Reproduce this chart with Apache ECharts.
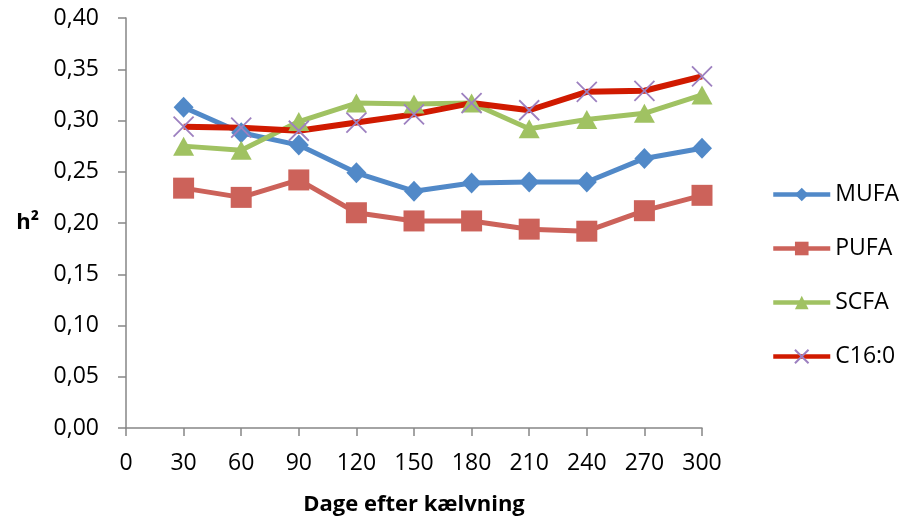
<!DOCTYPE html>
<html>
<head>
<meta charset="utf-8">
<script src="https://cdn.jsdelivr.net/npm/echarts@6/dist/echarts.min.js"></script>
<style>html,body{margin:0;padding:0;background:#fff}#c{width:913px;height:518px}</style>
</head>
<body>
<div id="c"></div>
<script>
const days = [30, 60, 90, 120, 150, 180, 210, 240, 270, 300];
const mufa = [0.313, 0.288, 0.276, 0.249, 0.231, 0.239, 0.240, 0.240, 0.263, 0.273];
const pufa = [0.234, 0.225, 0.242, 0.210, 0.202, 0.202, 0.194, 0.192, 0.212, 0.227];
const scfa = [0.275, 0.271, 0.299, 0.317, 0.316, 0.317, 0.292, 0.301, 0.307, 0.325];
const c160 = [0.294, 0.293, 0.290, 0.298, 0.306, 0.317, 0.310, 0.328, 0.329, 0.343];
const seriesNames = ['MUFA', 'PUFA', 'SCFA', 'C16:0'];
const xTicks = { min: 0, max: 300, step: 30 };
const yTicks = { min: 0, max: 0.40, step: 0.05 };

const pair = arr => arr.map((v, i) => [days[i], v]);
const font = '"Open Sans", Lato, sans-serif';
const axisColor = '#868686';

const chart = echarts.init(document.getElementById('c'), null, { renderer: 'canvas' });
chart.setOption({
  animation: false,
  backgroundColor: '#fff',
  grid: { left: 126, right: 211, top: 18, bottom: 90, containLabel: false, outerBoundsMode: 'none' },
  legend: {
    orient: 'vertical',
    left: 766,
    top: 178,
    itemGap: 31,
    itemWidth: 57,
    itemHeight: 17,
    lineStyle: { width: 4.5 },
    textStyle: { fontFamily: font, fontSize: 23, color: '#000' },
    data: seriesNames
  },
  xAxis: {
    type: 'value',
    min: xTicks.min, max: xTicks.max, interval: xTicks.step,
    name: 'Dage efter kælvning',
    nameLocation: 'middle',
    nameGap: 66,
    nameTextStyle: { fontFamily: font, fontSize: 22, fontWeight: 'bold', color: '#000' },
    axisLine: { show: true, lineStyle: { color: axisColor, width: 1.5 } },
    axisTick: { show: true, inside: false, length: 8, lineStyle: { color: axisColor, width: 1.5 } },
    axisLabel: { fontFamily: font, fontSize: 23, color: '#000', margin: 24 },
    splitLine: { show: false }
  },
  yAxis: {
    type: 'value',
    min: yTicks.min, max: yTicks.max, interval: yTicks.step,
    name: 'h²',
    nameLocation: 'middle',
    nameRotate: 0,
    nameGap: 87,
    nameTextStyle: { fontFamily: font, fontSize: 22, fontWeight: 'bold', color: '#000' },
    axisLine: { show: true, lineStyle: { color: axisColor, width: 1.5 } },
    axisTick: { show: true, inside: false, length: 8, lineStyle: { color: axisColor, width: 1.5 } },
    axisLabel: {
      fontFamily: font, fontSize: 23, color: '#000', margin: 27,
      formatter: v => v.toFixed(2).replace('.', ',')
    },
    splitLine: { show: false }
  },
  series: [
    {
      name: 'MUFA', type: 'line', data: pair(mufa),
      symbol: 'diamond', symbolSize: [20, 21],
      lineStyle: { color: '#5189c8', width: 5 },
      itemStyle: { color: '#5189c8' }
    },
    {
      name: 'PUFA', type: 'line', data: pair(pufa),
      symbol: 'rect', symbolSize: 21,
      lineStyle: { color: '#cc625a', width: 5 },
      itemStyle: { color: '#cc625a' }
    },
    {
      name: 'SCFA', type: 'line', data: pair(scfa),
      symbol: 'triangle', symbolSize: [21, 19],
      lineStyle: { color: '#a0c262', width: 5 },
      itemStyle: { color: '#a0c262' }
    },
    {
      name: 'C16:0', type: 'line', data: pair(c160),
      symbol: 'path://M0,0 L10,10 M10,0 L0,10', symbolSize: 20,
      lineStyle: { color: '#d01a00', width: 6 },
      itemStyle: { color: '#9d80c0', borderColor: '#9d80c0', borderWidth: 1.8 },
      z: 3
    }
  ]
});
</script>
</body>
</html>
